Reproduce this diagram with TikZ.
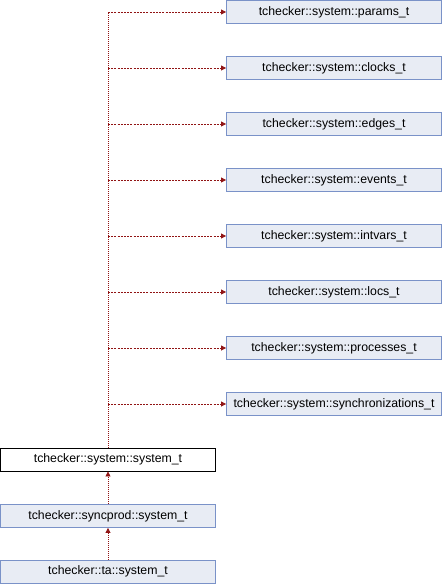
\documentclass[tikz,border=0pt]{standalone}
\usepackage{fontspec}
\setmainfont{Liberation Sans}
\usetikzlibrary{arrows.meta}
\definecolor{boxfill}{RGB}{232,236,244}
\definecolor{boxline}{RGB}{122,146,200}
\definecolor{edgecol}{RGB}{145,20,20}
\begin{document}
\begin{tikzpicture}[x=1pt,y=-1pt,
  cls/.style={draw=boxline,fill=boxfill,line width=0.9pt,rectangle,minimum width=215pt,minimum height=23pt,inner sep=0pt,font=\fontsize{12.3}{14}\selectfont},
  mainbox/.style={cls,draw=black,fill=white},
  usage/.style={draw=edgecol,line width=0.8pt,dash pattern=on 2pt off 1.2pt,-{Triangle[length=5pt,width=5pt]}},
  trunk/.style={draw=edgecol,line width=0.8pt,dash pattern=on 1pt off 1pt},
  inherit/.style={draw=edgecol,line width=0.8pt,dash pattern=on 1pt off 1pt,-{Triangle[length=5pt,width=5pt]}}]
\useasboundingbox (0,0) rectangle (442,584);
\node[cls] (params) at (334,12) {tchecker::system::params\_t};
\node[cls] (clocks) at (334,68) {tchecker::system::clocks\_t};
\node[cls] (edges) at (334,124) {tchecker::system::edges\_t};
\node[cls] (events) at (334,180) {tchecker::system::events\_t};
\node[cls] (intvars) at (334,236) {tchecker::system::intvars\_t};
\node[cls] (locs) at (334,292) {tchecker::system::locs\_t};
\node[cls] (procs) at (334,348) {tchecker::system::processes\_t};
\node[cls] (syncs) at (334,404) {tchecker::system::synchronizations\_t};
\node[mainbox] (sys) at (108,459.5) {tchecker::system::system\_t};
\node[cls] (syncprod) at (108,516) {tchecker::syncprod::system\_t};
\node[cls] (ta) at (108,571.5) {tchecker::ta::system\_t};
\coordinate (t1) at (108,12);
\coordinate (t2) at (108,68);
\coordinate (t3) at (108,124);
\coordinate (t4) at (108,180);
\coordinate (t5) at (108,236);
\coordinate (t6) at (108,292);
\coordinate (t7) at (108,348);
\coordinate (t8) at (108,404);
\draw[trunk] (sys.north) -- (t1);
\draw[usage] (t1) -- (params.west);
\draw[usage] (t2) -- (clocks.west);
\draw[usage] (t3) -- (edges.west);
\draw[usage] (t4) -- (events.west);
\draw[usage] (t5) -- (intvars.west);
\draw[usage] (t6) -- (locs.west);
\draw[usage] (t7) -- (procs.west);
\draw[usage] (t8) -- (syncs.west);
\draw[inherit] (syncprod.north) -- (sys.south);
\draw[inherit] (ta.north) -- (syncprod.south);
\end{tikzpicture}
\end{document}
